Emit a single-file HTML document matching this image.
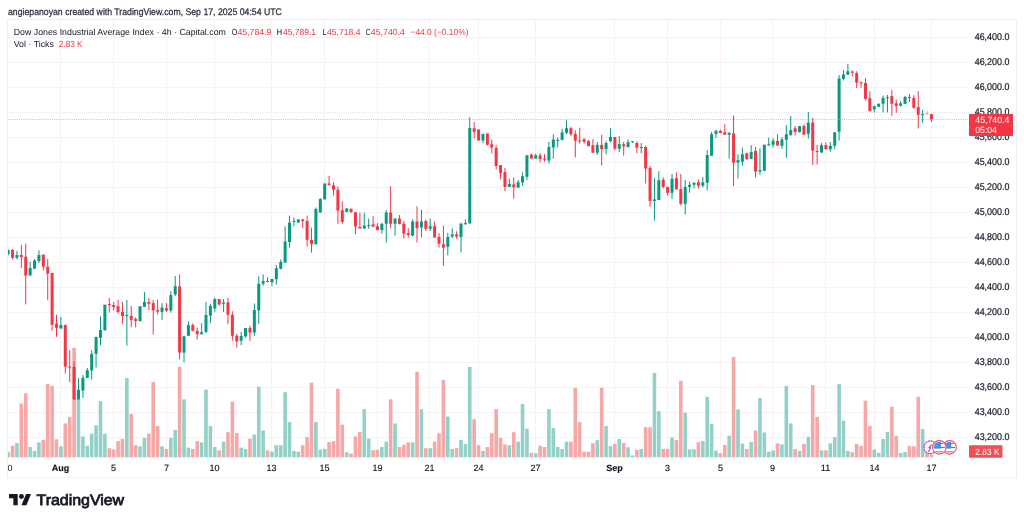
<!DOCTYPE html>
<html><head><meta charset="utf-8"><title>DJI 4h chart</title>
<style>
html,body{margin:0;padding:0;background:#fff;}
body{width:1024px;height:522px;overflow:hidden;position:relative;font-family:"Liberation Sans",Arial,sans-serif;}
svg{position:absolute;left:0;top:0;}
svg text{font-family:"Liberation Sans",Arial,sans-serif;text-rendering:geometricPrecision;}
</style></head><body>
<svg width="1024" height="522" viewBox="0 0 1024 522">
<defs>
<clipPath id="pane"><rect x="8" y="20" width="960" height="438"/></clipPath>
<clipPath id="tax"><rect x="8" y="458" width="960" height="19"/></clipPath>
<clipPath id="f1"><circle cx="0" cy="0" r="5.6"/></clipPath>
</defs>
<rect x="7.5" y="19.5" width="1009" height="458.3" fill="#fff" stroke="#edf0f2" stroke-width="1"/>
<g stroke-width="1" shape-rendering="crispEdges"><line x1="8" y1="37.5" x2="968" y2="37.5" stroke="#f1f4f5"/><line x1="8" y1="62.5" x2="968" y2="62.5" stroke="#f1f4f5"/><line x1="8" y1="87.5" x2="968" y2="87.5" stroke="#f1f4f5"/><line x1="8" y1="112.5" x2="968" y2="112.5" stroke="#f1f4f5"/><line x1="8" y1="137.5" x2="968" y2="137.5" stroke="#f1f4f5"/><line x1="8" y1="162.5" x2="968" y2="162.5" stroke="#f1f4f5"/><line x1="8" y1="187.5" x2="968" y2="187.5" stroke="#fcf0f1"/><line x1="8" y1="212.5" x2="968" y2="212.5" stroke="#f1f4f5"/><line x1="8" y1="237.5" x2="968" y2="237.5" stroke="#f1f4f5"/><line x1="8" y1="262.5" x2="968" y2="262.5" stroke="#fcf0f1"/><line x1="8" y1="287.5" x2="968" y2="287.5" stroke="#f1f4f5"/><line x1="8" y1="312.5" x2="968" y2="312.5" stroke="#f7f4f6"/><line x1="8" y1="337.5" x2="968" y2="337.5" stroke="#f1f4f5"/><line x1="8" y1="362.5" x2="968" y2="362.5" stroke="#f1f4f5"/><line x1="8" y1="387.5" x2="968" y2="387.5" stroke="#fcf0f1"/><line x1="8" y1="412.5" x2="968" y2="412.5" stroke="#fcf0f1"/><line x1="8" y1="437.5" x2="968" y2="437.5" stroke="#f1f4f5"/><line x1="60.5" y1="20" x2="60.5" y2="458" stroke="#f1f4f5"/><line x1="113.5" y1="20" x2="113.5" y2="458" stroke="#f1f4f5"/><line x1="166.5" y1="20" x2="166.5" y2="458" stroke="#fcf0f1"/><line x1="214.5" y1="20" x2="214.5" y2="458" stroke="#fcf0f1"/><line x1="271.5" y1="20" x2="271.5" y2="458" stroke="#f1f4f5"/><line x1="324.5" y1="20" x2="324.5" y2="458" stroke="#f1f4f5"/><line x1="377.5" y1="20" x2="377.5" y2="458" stroke="#fcf0f1"/><line x1="429.5" y1="20" x2="429.5" y2="458" stroke="#fcf0f1"/><line x1="478.5" y1="20" x2="478.5" y2="458" stroke="#f1f4f5"/><line x1="535.5" y1="20" x2="535.5" y2="458" stroke="#f1f4f5"/><line x1="614.5" y1="20" x2="614.5" y2="458" stroke="#f1f4f5"/><line x1="667.5" y1="20" x2="667.5" y2="458" stroke="#f1f4f5"/><line x1="720.5" y1="20" x2="720.5" y2="458" stroke="#fcf0f1"/><line x1="772.5" y1="20" x2="772.5" y2="458" stroke="#fcf0f1"/><line x1="825.5" y1="20" x2="825.5" y2="458" stroke="#f1f4f5"/><line x1="874.5" y1="20" x2="874.5" y2="458" stroke="#f1f4f5"/><line x1="931.5" y1="20" x2="931.5" y2="458" stroke="#fcf0f1"/></g>
<g clip-path="url(#pane)"><rect x="6.35" y="452.2" width="3.6" height="5.1" fill="#92d1c7"/><rect x="10.75" y="445.7" width="3.6" height="11.6" fill="#f6a7a7"/><rect x="15.14" y="443" width="3.6" height="14.3" fill="#92d1c7"/><rect x="19.54" y="403.6" width="3.6" height="53.7" fill="#f6a7a7"/><rect x="23.94" y="393.2" width="3.6" height="64.1" fill="#f6a7a7"/><rect x="28.33" y="447" width="3.6" height="10.3" fill="#92d1c7"/><rect x="32.73" y="450.9" width="3.6" height="6.4" fill="#92d1c7"/><rect x="37.13" y="442.4" width="3.6" height="14.9" fill="#92d1c7"/><rect x="41.52" y="439.8" width="3.6" height="17.5" fill="#f6a7a7"/><rect x="45.92" y="383.9" width="3.6" height="73.4" fill="#f6a7a7"/><rect x="50.31" y="385.9" width="3.6" height="71.4" fill="#f6a7a7"/><rect x="54.71" y="439.2" width="3.6" height="18.1" fill="#f6a7a7"/><rect x="59.11" y="446.3" width="3.6" height="11" fill="#92d1c7"/><rect x="63.5" y="423.4" width="3.6" height="33.9" fill="#f6a7a7"/><rect x="67.9" y="416.9" width="3.6" height="40.4" fill="#f6a7a7"/><rect x="72.3" y="347.8" width="3.6" height="109.5" fill="#f6a7a7"/><rect x="76.69" y="399" width="3.6" height="58.3" fill="#92d1c7"/><rect x="81.09" y="436.5" width="3.6" height="20.8" fill="#92d1c7"/><rect x="85.49" y="445.7" width="3.6" height="11.6" fill="#92d1c7"/><rect x="89.88" y="433.7" width="3.6" height="23.6" fill="#92d1c7"/><rect x="94.28" y="425.3" width="3.6" height="32" fill="#92d1c7"/><rect x="98.68" y="401.2" width="3.6" height="56.1" fill="#92d1c7"/><rect x="103.07" y="433.7" width="3.6" height="23.6" fill="#92d1c7"/><rect x="107.47" y="448.2" width="3.6" height="9.1" fill="#f6a7a7"/><rect x="111.87" y="449.5" width="3.6" height="7.8" fill="#f6a7a7"/><rect x="116.26" y="441.1" width="3.6" height="16.2" fill="#f6a7a7"/><rect x="120.66" y="438.9" width="3.6" height="18.4" fill="#f6a7a7"/><rect x="125.06" y="377.9" width="3.6" height="79.4" fill="#92d1c7"/><rect x="129.45" y="413.8" width="3.6" height="43.5" fill="#f6a7a7"/><rect x="133.85" y="445.2" width="3.6" height="12.1" fill="#f6a7a7"/><rect x="138.24" y="446.3" width="3.6" height="11" fill="#92d1c7"/><rect x="142.64" y="437.9" width="3.6" height="19.4" fill="#92d1c7"/><rect x="147.04" y="433.7" width="3.6" height="23.6" fill="#f6a7a7"/><rect x="151.43" y="382" width="3.6" height="75.3" fill="#f6a7a7"/><rect x="155.83" y="425.9" width="3.6" height="31.4" fill="#f6a7a7"/><rect x="160.23" y="446.3" width="3.6" height="11" fill="#92d1c7"/><rect x="164.62" y="448.9" width="3.6" height="8.4" fill="#f6a7a7"/><rect x="169.02" y="437.9" width="3.6" height="19.4" fill="#92d1c7"/><rect x="173.42" y="430" width="3.6" height="27.3" fill="#92d1c7"/><rect x="177.81" y="366.8" width="3.6" height="90.5" fill="#f6a7a7"/><rect x="182.21" y="399.3" width="3.6" height="58" fill="#92d1c7"/><rect x="186.61" y="447.6" width="3.6" height="9.7" fill="#92d1c7"/><rect x="191" y="448.9" width="3.6" height="8.4" fill="#f6a7a7"/><rect x="195.4" y="441.1" width="3.6" height="16.2" fill="#f6a7a7"/><rect x="199.8" y="442.4" width="3.6" height="14.9" fill="#92d1c7"/><rect x="204.19" y="389.6" width="3.6" height="67.7" fill="#92d1c7"/><rect x="208.59" y="425.9" width="3.6" height="31.4" fill="#92d1c7"/><rect x="212.99" y="447" width="3.6" height="10.3" fill="#92d1c7"/><rect x="217.38" y="450.4" width="3.6" height="6.9" fill="#f6a7a7"/><rect x="221.78" y="441.7" width="3.6" height="15.6" fill="#92d1c7"/><rect x="226.17" y="432.2" width="3.6" height="25.1" fill="#f6a7a7"/><rect x="230.57" y="401.7" width="3.6" height="55.6" fill="#f6a7a7"/><rect x="234.97" y="433.1" width="3.6" height="24.2" fill="#f6a7a7"/><rect x="239.36" y="447.6" width="3.6" height="9.7" fill="#92d1c7"/><rect x="243.76" y="449.1" width="3.6" height="8.2" fill="#92d1c7"/><rect x="248.16" y="438.7" width="3.6" height="18.6" fill="#f6a7a7"/><rect x="252.55" y="434.6" width="3.6" height="22.7" fill="#92d1c7"/><rect x="256.95" y="386.7" width="3.6" height="70.6" fill="#92d1c7"/><rect x="261.35" y="430.5" width="3.6" height="26.8" fill="#92d1c7"/><rect x="265.74" y="450.4" width="3.6" height="6.9" fill="#f6a7a7"/><rect x="270.14" y="451.7" width="3.6" height="5.6" fill="#92d1c7"/><rect x="274.54" y="445.2" width="3.6" height="12.1" fill="#92d1c7"/><rect x="278.93" y="445.2" width="3.6" height="12.1" fill="#92d1c7"/><rect x="283.33" y="392.2" width="3.6" height="65.1" fill="#92d1c7"/><rect x="287.73" y="422" width="3.6" height="35.3" fill="#92d1c7"/><rect x="292.12" y="450.9" width="3.6" height="6.4" fill="#92d1c7"/><rect x="296.52" y="451.7" width="3.6" height="5.6" fill="#92d1c7"/><rect x="300.92" y="445.2" width="3.6" height="12.1" fill="#f6a7a7"/><rect x="305.31" y="437" width="3.6" height="20.3" fill="#f6a7a7"/><rect x="309.71" y="382.6" width="3.6" height="74.7" fill="#f6a7a7"/><rect x="314.1" y="422" width="3.6" height="35.3" fill="#92d1c7"/><rect x="318.5" y="449.8" width="3.6" height="7.5" fill="#92d1c7"/><rect x="322.9" y="448.9" width="3.6" height="8.4" fill="#92d1c7"/><rect x="327.29" y="442" width="3.6" height="15.3" fill="#f6a7a7"/><rect x="331.69" y="441.1" width="3.6" height="16.2" fill="#f6a7a7"/><rect x="336.09" y="388.7" width="3.6" height="68.6" fill="#f6a7a7"/><rect x="340.48" y="424.7" width="3.6" height="32.6" fill="#f6a7a7"/><rect x="344.88" y="452.2" width="3.6" height="5.1" fill="#92d1c7"/><rect x="349.28" y="453.5" width="3.6" height="3.8" fill="#f6a7a7"/><rect x="353.67" y="436.5" width="3.6" height="20.8" fill="#f6a7a7"/><rect x="358.07" y="431.8" width="3.6" height="25.5" fill="#f6a7a7"/><rect x="362.47" y="409.1" width="3.6" height="48.2" fill="#92d1c7"/><rect x="366.86" y="438.7" width="3.6" height="18.6" fill="#92d1c7"/><rect x="371.26" y="450.2" width="3.6" height="7.1" fill="#f6a7a7"/><rect x="375.66" y="449.8" width="3.6" height="7.5" fill="#f6a7a7"/><rect x="380.05" y="447" width="3.6" height="10.3" fill="#92d1c7"/><rect x="384.45" y="441.7" width="3.6" height="15.6" fill="#92d1c7"/><rect x="388.85" y="399.3" width="3.6" height="58" fill="#f6a7a7"/><rect x="393.24" y="423.4" width="3.6" height="33.9" fill="#92d1c7"/><rect x="397.64" y="447" width="3.6" height="10.3" fill="#f6a7a7"/><rect x="402.03" y="444.8" width="3.6" height="12.5" fill="#f6a7a7"/><rect x="406.43" y="442.4" width="3.6" height="14.9" fill="#f6a7a7"/><rect x="410.83" y="442.4" width="3.6" height="14.9" fill="#92d1c7"/><rect x="415.22" y="371.8" width="3.6" height="85.5" fill="#f6a7a7"/><rect x="419.62" y="409.1" width="3.6" height="48.2" fill="#92d1c7"/><rect x="424.02" y="448.2" width="3.6" height="9.1" fill="#f6a7a7"/><rect x="428.41" y="448.2" width="3.6" height="9.1" fill="#92d1c7"/><rect x="432.81" y="441.7" width="3.6" height="15.6" fill="#f6a7a7"/><rect x="437.21" y="433.3" width="3.6" height="24" fill="#f6a7a7"/><rect x="441.6" y="379.8" width="3.6" height="77.5" fill="#f6a7a7"/><rect x="446" y="416.6" width="3.6" height="40.7" fill="#92d1c7"/><rect x="450.4" y="448.9" width="3.6" height="8.4" fill="#92d1c7"/><rect x="454.79" y="448.2" width="3.6" height="9.1" fill="#f6a7a7"/><rect x="459.19" y="439.8" width="3.6" height="17.5" fill="#92d1c7"/><rect x="463.59" y="443.9" width="3.6" height="13.4" fill="#92d1c7"/><rect x="467.98" y="366.8" width="3.6" height="90.5" fill="#92d1c7"/><rect x="472.38" y="419.2" width="3.6" height="38.1" fill="#f6a7a7"/><rect x="476.78" y="445.2" width="3.6" height="12.1" fill="#f6a7a7"/><rect x="481.17" y="450.9" width="3.6" height="6.4" fill="#92d1c7"/><rect x="485.57" y="447" width="3.6" height="10.3" fill="#f6a7a7"/><rect x="489.96" y="433.3" width="3.6" height="24" fill="#f6a7a7"/><rect x="494.36" y="409.1" width="3.6" height="48.2" fill="#f6a7a7"/><rect x="498.76" y="437.9" width="3.6" height="19.4" fill="#f6a7a7"/><rect x="503.15" y="444.4" width="3.6" height="12.9" fill="#f6a7a7"/><rect x="507.55" y="445.2" width="3.6" height="12.1" fill="#92d1c7"/><rect x="511.95" y="432.2" width="3.6" height="25.1" fill="#f6a7a7"/><rect x="516.34" y="441.7" width="3.6" height="15.6" fill="#92d1c7"/><rect x="520.74" y="403.9" width="3.6" height="53.4" fill="#92d1c7"/><rect x="525.14" y="428.6" width="3.6" height="28.7" fill="#92d1c7"/><rect x="529.53" y="452.8" width="3.6" height="4.5" fill="#f6a7a7"/><rect x="533.93" y="453.2" width="3.6" height="4.1" fill="#92d1c7"/><rect x="538.33" y="445.7" width="3.6" height="11.6" fill="#f6a7a7"/><rect x="542.72" y="447" width="3.6" height="10.3" fill="#f6a7a7"/><rect x="547.12" y="409.1" width="3.6" height="48.2" fill="#92d1c7"/><rect x="551.52" y="428.1" width="3.6" height="29.2" fill="#92d1c7"/><rect x="555.91" y="447" width="3.6" height="10.3" fill="#92d1c7"/><rect x="560.31" y="449.1" width="3.6" height="8.2" fill="#92d1c7"/><rect x="564.71" y="441.7" width="3.6" height="15.6" fill="#92d1c7"/><rect x="569.1" y="441.7" width="3.6" height="15.6" fill="#f6a7a7"/><rect x="573.5" y="387.8" width="3.6" height="69.5" fill="#f6a7a7"/><rect x="577.89" y="422.1" width="3.6" height="35.2" fill="#f6a7a7"/><rect x="582.29" y="451.7" width="3.6" height="5.6" fill="#f6a7a7"/><rect x="586.69" y="451.7" width="3.6" height="5.6" fill="#f6a7a7"/><rect x="591.08" y="443.3" width="3.6" height="14" fill="#f6a7a7"/><rect x="595.48" y="440.2" width="3.6" height="17.1" fill="#92d1c7"/><rect x="599.88" y="387.8" width="3.6" height="69.5" fill="#f6a7a7"/><rect x="604.27" y="425.9" width="3.6" height="31.4" fill="#92d1c7"/><rect x="608.67" y="446.1" width="3.6" height="11.2" fill="#92d1c7"/><rect x="613.07" y="443.9" width="3.6" height="13.4" fill="#f6a7a7"/><rect x="617.46" y="439" width="3.6" height="18.3" fill="#92d1c7"/><rect x="621.86" y="442.9" width="3.6" height="14.4" fill="#f6a7a7"/><rect x="626.26" y="447.2" width="3.6" height="10.1" fill="#92d1c7"/><rect x="630.65" y="455.5" width="3.6" height="1.8" fill="#92d1c7"/><rect x="635.05" y="450" width="3.6" height="7.3" fill="#f6a7a7"/><rect x="639.45" y="448.9" width="3.6" height="8.4" fill="#92d1c7"/><rect x="643.84" y="427.2" width="3.6" height="30.1" fill="#f6a7a7"/><rect x="648.24" y="427.2" width="3.6" height="30.1" fill="#f6a7a7"/><rect x="652.64" y="373" width="3.6" height="84.3" fill="#92d1c7"/><rect x="657.03" y="411.2" width="3.6" height="46.1" fill="#92d1c7"/><rect x="661.43" y="448.9" width="3.6" height="8.4" fill="#f6a7a7"/><rect x="665.82" y="448.9" width="3.6" height="8.4" fill="#f6a7a7"/><rect x="670.22" y="437.6" width="3.6" height="19.7" fill="#92d1c7"/><rect x="674.62" y="440" width="3.6" height="17.3" fill="#f6a7a7"/><rect x="679.01" y="380.8" width="3.6" height="76.5" fill="#f6a7a7"/><rect x="683.41" y="412.7" width="3.6" height="44.6" fill="#92d1c7"/><rect x="687.81" y="449.3" width="3.6" height="8" fill="#92d1c7"/><rect x="692.2" y="449.3" width="3.6" height="8" fill="#92d1c7"/><rect x="696.6" y="442.1" width="3.6" height="15.2" fill="#f6a7a7"/><rect x="701" y="441" width="3.6" height="16.3" fill="#92d1c7"/><rect x="705.39" y="396.8" width="3.6" height="60.5" fill="#92d1c7"/><rect x="709.79" y="424" width="3.6" height="33.3" fill="#92d1c7"/><rect x="714.19" y="450.6" width="3.6" height="6.7" fill="#92d1c7"/><rect x="718.58" y="453.1" width="3.6" height="4.2" fill="#f6a7a7"/><rect x="722.98" y="445" width="3.6" height="12.3" fill="#f6a7a7"/><rect x="727.38" y="435.7" width="3.6" height="21.6" fill="#92d1c7"/><rect x="731.77" y="356.8" width="3.6" height="100.5" fill="#f6a7a7"/><rect x="736.17" y="409.5" width="3.6" height="47.8" fill="#92d1c7"/><rect x="740.57" y="443.6" width="3.6" height="13.7" fill="#92d1c7"/><rect x="744.96" y="449" width="3.6" height="8.3" fill="#f6a7a7"/><rect x="749.36" y="442" width="3.6" height="15.3" fill="#92d1c7"/><rect x="753.75" y="430.5" width="3.6" height="26.8" fill="#f6a7a7"/><rect x="758.15" y="398" width="3.6" height="59.3" fill="#92d1c7"/><rect x="762.55" y="432.4" width="3.6" height="24.9" fill="#92d1c7"/><rect x="766.94" y="451.7" width="3.6" height="5.6" fill="#92d1c7"/><rect x="771.34" y="450.4" width="3.6" height="6.9" fill="#92d1c7"/><rect x="775.74" y="443.3" width="3.6" height="14" fill="#f6a7a7"/><rect x="780.13" y="444.4" width="3.6" height="12.9" fill="#92d1c7"/><rect x="784.53" y="385.9" width="3.6" height="71.4" fill="#92d1c7"/><rect x="788.93" y="423.4" width="3.6" height="33.9" fill="#92d1c7"/><rect x="793.32" y="449.1" width="3.6" height="8.2" fill="#f6a7a7"/><rect x="797.72" y="450.9" width="3.6" height="6.4" fill="#92d1c7"/><rect x="802.12" y="443.9" width="3.6" height="13.4" fill="#f6a7a7"/><rect x="806.51" y="436.8" width="3.6" height="20.5" fill="#92d1c7"/><rect x="810.91" y="385" width="3.6" height="72.3" fill="#f6a7a7"/><rect x="815.31" y="416.9" width="3.6" height="40.4" fill="#f6a7a7"/><rect x="819.7" y="450.4" width="3.6" height="6.9" fill="#92d1c7"/><rect x="824.1" y="450.4" width="3.6" height="6.9" fill="#f6a7a7"/><rect x="828.5" y="443.3" width="3.6" height="14" fill="#92d1c7"/><rect x="832.89" y="437" width="3.6" height="20.3" fill="#92d1c7"/><rect x="837.29" y="384.1" width="3.6" height="73.2" fill="#92d1c7"/><rect x="841.68" y="420.7" width="3.6" height="36.6" fill="#92d1c7"/><rect x="846.08" y="450.9" width="3.6" height="6.4" fill="#92d1c7"/><rect x="850.48" y="452.2" width="3.6" height="5.1" fill="#f6a7a7"/><rect x="854.87" y="443.9" width="3.6" height="13.4" fill="#f6a7a7"/><rect x="859.27" y="445.8" width="3.6" height="11.5" fill="#f6a7a7"/><rect x="863.67" y="400.7" width="3.6" height="56.6" fill="#f6a7a7"/><rect x="868.06" y="425.8" width="3.6" height="31.5" fill="#f6a7a7"/><rect x="872.46" y="449.4" width="3.6" height="7.9" fill="#92d1c7"/><rect x="876.86" y="452.9" width="3.6" height="4.4" fill="#92d1c7"/><rect x="881.25" y="439" width="3.6" height="18.3" fill="#92d1c7"/><rect x="885.65" y="432" width="3.6" height="25.3" fill="#92d1c7"/><rect x="890.05" y="406.7" width="3.6" height="50.6" fill="#f6a7a7"/><rect x="894.44" y="435.9" width="3.6" height="21.4" fill="#f6a7a7"/><rect x="898.84" y="452.9" width="3.6" height="4.4" fill="#92d1c7"/><rect x="903.24" y="452.1" width="3.6" height="5.2" fill="#92d1c7"/><rect x="907.63" y="445.9" width="3.6" height="11.4" fill="#f6a7a7"/><rect x="912.03" y="446.3" width="3.6" height="11" fill="#f6a7a7"/><rect x="916.43" y="396.8" width="3.6" height="60.5" fill="#f6a7a7"/><rect x="920.82" y="429" width="3.6" height="28.3" fill="#92d1c7"/><rect x="925.22" y="453" width="3.6" height="4.3" fill="#f6a7a7"/><rect x="929.61" y="454.5" width="3.6" height="2.8" fill="#f6a7a7"/></g>
<g clip-path="url(#pane)"><rect x="7.65" y="249.5" width="1" height="6" fill="#089981"/><rect x="6.65" y="250" width="3" height="4" fill="#089981"/><rect x="12.05" y="249" width="1" height="10.5" fill="#f23645"/><rect x="11.05" y="250" width="3" height="7.75" fill="#f23645"/><rect x="16.44" y="251" width="1" height="8.5" fill="#089981"/><rect x="15.44" y="255" width="3" height="2.75" fill="#089981"/><rect x="20.84" y="245" width="1" height="23" fill="#f23645"/><rect x="19.84" y="255" width="3" height="2" fill="#f23645"/><rect x="25.24" y="243.6" width="1" height="60.8" fill="#f23645"/><rect x="24.24" y="256.75" width="3" height="18.75" fill="#f23645"/><rect x="29.63" y="261.75" width="1" height="13.75" fill="#089981"/><rect x="28.63" y="268" width="3" height="7.5" fill="#089981"/><rect x="34.03" y="259.25" width="1" height="10" fill="#089981"/><rect x="33.03" y="260.5" width="3" height="8.1" fill="#089981"/><rect x="38.43" y="250.25" width="1" height="12.75" fill="#089981"/><rect x="37.43" y="255" width="3" height="6" fill="#089981"/><rect x="42.82" y="254.6" width="1" height="15.9" fill="#f23645"/><rect x="41.82" y="254.6" width="3" height="12.15" fill="#f23645"/><rect x="47.22" y="259" width="1" height="41.2" fill="#f23645"/><rect x="46.22" y="266.75" width="3" height="6.85" fill="#f23645"/><rect x="51.61" y="273" width="1" height="57.6" fill="#f23645"/><rect x="50.61" y="273" width="3" height="51.75" fill="#f23645"/><rect x="56.01" y="314.75" width="1" height="22.15" fill="#f23645"/><rect x="55.01" y="323.5" width="3" height="4.25" fill="#f23645"/><rect x="60.41" y="316.9" width="1" height="11.6" fill="#089981"/><rect x="59.41" y="325" width="3" height="3.5" fill="#089981"/><rect x="64.8" y="324.5" width="1" height="49.1" fill="#f23645"/><rect x="63.8" y="325" width="3" height="41.6" fill="#f23645"/><rect x="69.2" y="350.2" width="1" height="31.8" fill="#f23645"/><rect x="68.2" y="366.6" width="3" height="1" fill="#f23645"/><rect x="73.6" y="361.4" width="1" height="38.6" fill="#f23645"/><rect x="72.6" y="367" width="3" height="32.4" fill="#f23645"/><rect x="77.99" y="377.8" width="1" height="21.6" fill="#089981"/><rect x="76.99" y="389.7" width="3" height="9.7" fill="#089981"/><rect x="82.39" y="375" width="1" height="22.8" fill="#089981"/><rect x="81.39" y="377.8" width="3" height="12.8" fill="#089981"/><rect x="86.79" y="368" width="1" height="10" fill="#089981"/><rect x="85.79" y="370.2" width="3" height="7.8" fill="#089981"/><rect x="91.18" y="350.2" width="1" height="29.5" fill="#089981"/><rect x="90.18" y="353.9" width="3" height="16.6" fill="#089981"/><rect x="95.58" y="336.9" width="1" height="30.6" fill="#089981"/><rect x="94.58" y="336.9" width="3" height="17" fill="#089981"/><rect x="99.98" y="316.25" width="1" height="28.75" fill="#089981"/><rect x="98.98" y="330" width="3" height="7.75" fill="#089981"/><rect x="104.37" y="304.75" width="1" height="25.65" fill="#089981"/><rect x="103.37" y="304.75" width="3" height="25.65" fill="#089981"/><rect x="108.77" y="298" width="1" height="14.5" fill="#f23645"/><rect x="107.77" y="304" width="3" height="1" fill="#f23645"/><rect x="113.17" y="302" width="1" height="8.6" fill="#f23645"/><rect x="112.17" y="305" width="3" height="2" fill="#f23645"/><rect x="117.56" y="300" width="1" height="13.75" fill="#f23645"/><rect x="116.56" y="306.25" width="3" height="5.75" fill="#f23645"/><rect x="121.96" y="301.9" width="1" height="21.85" fill="#f23645"/><rect x="120.96" y="312" width="3" height="4" fill="#f23645"/><rect x="126.36" y="300" width="1" height="45.7" fill="#089981"/><rect x="125.36" y="315" width="3" height="1" fill="#089981"/><rect x="130.75" y="306" width="1" height="21.3" fill="#f23645"/><rect x="129.75" y="316" width="3" height="3.75" fill="#f23645"/><rect x="135.15" y="317.25" width="1" height="10.05" fill="#f23645"/><rect x="134.15" y="319.1" width="3" height="1.9" fill="#f23645"/><rect x="139.54" y="306.25" width="1" height="15" fill="#089981"/><rect x="138.54" y="306.25" width="3" height="15" fill="#089981"/><rect x="143.94" y="291.9" width="1" height="15" fill="#089981"/><rect x="142.94" y="301.9" width="3" height="5" fill="#089981"/><rect x="148.34" y="298.1" width="1" height="12.15" fill="#f23645"/><rect x="147.34" y="301.9" width="3" height="1.85" fill="#f23645"/><rect x="152.73" y="300" width="1" height="34.5" fill="#f23645"/><rect x="151.73" y="303.1" width="3" height="7.15" fill="#f23645"/><rect x="157.13" y="299.4" width="1" height="15" fill="#f23645"/><rect x="156.13" y="310" width="3" height="1.5" fill="#f23645"/><rect x="161.53" y="303.1" width="1" height="16.9" fill="#089981"/><rect x="160.53" y="307.5" width="3" height="4.4" fill="#089981"/><rect x="165.92" y="303.1" width="1" height="8.8" fill="#f23645"/><rect x="164.92" y="308.1" width="3" height="2.5" fill="#f23645"/><rect x="170.32" y="291.25" width="1" height="21.25" fill="#089981"/><rect x="169.32" y="295" width="3" height="15.6" fill="#089981"/><rect x="174.72" y="276" width="1" height="20.25" fill="#089981"/><rect x="173.72" y="286.25" width="3" height="8.15" fill="#089981"/><rect x="179.11" y="274.4" width="1" height="85.1" fill="#f23645"/><rect x="178.11" y="286.25" width="3" height="66.35" fill="#f23645"/><rect x="183.51" y="335.75" width="1" height="26.5" fill="#089981"/><rect x="182.51" y="336.4" width="3" height="16.2" fill="#089981"/><rect x="187.91" y="321.25" width="1" height="14.5" fill="#089981"/><rect x="186.91" y="325.1" width="3" height="10.65" fill="#089981"/><rect x="192.3" y="323.25" width="1" height="8.15" fill="#f23645"/><rect x="191.3" y="325.1" width="3" height="5.65" fill="#f23645"/><rect x="196.7" y="327.6" width="1" height="11.9" fill="#f23645"/><rect x="195.7" y="331" width="3" height="3.25" fill="#f23645"/><rect x="201.1" y="323.25" width="1" height="11" fill="#089981"/><rect x="200.1" y="332.25" width="3" height="2" fill="#089981"/><rect x="205.49" y="301.9" width="1" height="31.35" fill="#089981"/><rect x="204.49" y="315" width="3" height="16.9" fill="#089981"/><rect x="209.89" y="303.75" width="1" height="19.35" fill="#089981"/><rect x="208.89" y="306" width="3" height="9.6" fill="#089981"/><rect x="214.29" y="297.75" width="1" height="14.15" fill="#089981"/><rect x="213.29" y="299.1" width="3" height="9.4" fill="#089981"/><rect x="218.68" y="299.1" width="1" height="6.5" fill="#f23645"/><rect x="217.68" y="299.1" width="3" height="5.3" fill="#f23645"/><rect x="223.08" y="299" width="1" height="12.9" fill="#089981"/><rect x="222.08" y="302.5" width="3" height="1.25" fill="#089981"/><rect x="227.47" y="297.75" width="1" height="26.45" fill="#f23645"/><rect x="226.47" y="302.25" width="3" height="12.5" fill="#f23645"/><rect x="231.87" y="311.25" width="1" height="29.5" fill="#f23645"/><rect x="230.87" y="314.75" width="3" height="21" fill="#f23645"/><rect x="236.27" y="333.9" width="1" height="13.7" fill="#f23645"/><rect x="235.27" y="335.75" width="3" height="5.65" fill="#f23645"/><rect x="240.66" y="332" width="1" height="13.1" fill="#089981"/><rect x="239.66" y="336" width="3" height="4.75" fill="#089981"/><rect x="245.06" y="328" width="1" height="9.6" fill="#089981"/><rect x="244.06" y="328" width="3" height="8.4" fill="#089981"/><rect x="249.46" y="325.75" width="1" height="15" fill="#f23645"/><rect x="248.46" y="328" width="3" height="4.6" fill="#f23645"/><rect x="253.85" y="303.5" width="1" height="32.5" fill="#089981"/><rect x="252.85" y="310" width="3" height="22.5" fill="#089981"/><rect x="258.25" y="276.25" width="1" height="47.5" fill="#089981"/><rect x="257.25" y="283.75" width="3" height="26.5" fill="#089981"/><rect x="262.65" y="274.4" width="1" height="11.2" fill="#089981"/><rect x="261.65" y="281" width="3" height="2.75" fill="#089981"/><rect x="267.04" y="277.25" width="1" height="5.25" fill="#f23645"/><rect x="266.04" y="281" width="3" height="1" fill="#f23645"/><rect x="271.44" y="279" width="1" height="7.25" fill="#089981"/><rect x="270.44" y="279" width="3" height="3.25" fill="#089981"/><rect x="275.84" y="265.1" width="1" height="19.4" fill="#089981"/><rect x="274.84" y="268.25" width="3" height="11" fill="#089981"/><rect x="280.23" y="259.5" width="1" height="9.75" fill="#089981"/><rect x="279.23" y="262" width="3" height="6.9" fill="#089981"/><rect x="284.63" y="226.4" width="1" height="36.2" fill="#089981"/><rect x="283.63" y="241.4" width="3" height="21.2" fill="#089981"/><rect x="289.03" y="215.6" width="1" height="32" fill="#089981"/><rect x="288.03" y="222.6" width="3" height="19.4" fill="#089981"/><rect x="293.42" y="217.5" width="1" height="8.75" fill="#089981"/><rect x="292.42" y="221" width="3" height="1" fill="#089981"/><rect x="297.82" y="219.4" width="1" height="3.6" fill="#089981"/><rect x="296.82" y="219.4" width="3" height="3.1" fill="#089981"/><rect x="302.22" y="218.75" width="1" height="9.35" fill="#f23645"/><rect x="301.22" y="219.4" width="3" height="1.6" fill="#f23645"/><rect x="306.61" y="215.6" width="1" height="30.8" fill="#f23645"/><rect x="305.61" y="221" width="3" height="18.75" fill="#f23645"/><rect x="311.01" y="227.6" width="1" height="25" fill="#f23645"/><rect x="310.01" y="240.1" width="3" height="3.8" fill="#f23645"/><rect x="315.4" y="207.5" width="1" height="36.75" fill="#089981"/><rect x="314.4" y="209" width="3" height="35.25" fill="#089981"/><rect x="319.8" y="198.1" width="1" height="14.4" fill="#089981"/><rect x="318.8" y="199.1" width="3" height="13.4" fill="#089981"/><rect x="324.2" y="183.5" width="1" height="15.9" fill="#089981"/><rect x="323.2" y="183.5" width="3" height="15.9" fill="#089981"/><rect x="328.59" y="176" width="1" height="9.25" fill="#f23645"/><rect x="327.59" y="183.5" width="3" height="1.75" fill="#f23645"/><rect x="332.99" y="182.25" width="1" height="13.35" fill="#f23645"/><rect x="331.99" y="185.25" width="3" height="4.5" fill="#f23645"/><rect x="337.39" y="186.5" width="1" height="37.25" fill="#f23645"/><rect x="336.39" y="189.75" width="3" height="20.85" fill="#f23645"/><rect x="341.78" y="201.25" width="1" height="22.5" fill="#f23645"/><rect x="340.78" y="210.25" width="3" height="11.65" fill="#f23645"/><rect x="346.18" y="207.75" width="1" height="4.5" fill="#089981"/><rect x="345.18" y="208.5" width="3" height="3.4" fill="#089981"/><rect x="350.58" y="208.75" width="1" height="3.75" fill="#f23645"/><rect x="349.58" y="208.75" width="3" height="3.5" fill="#f23645"/><rect x="354.97" y="212.25" width="1" height="22.25" fill="#f23645"/><rect x="353.97" y="212.25" width="3" height="14.25" fill="#f23645"/><rect x="359.37" y="212.5" width="1" height="16" fill="#f23645"/><rect x="358.37" y="226.9" width="3" height="1.6" fill="#f23645"/><rect x="363.77" y="212.75" width="1" height="16" fill="#089981"/><rect x="362.77" y="225.6" width="3" height="2.9" fill="#089981"/><rect x="368.16" y="218.5" width="1" height="10.25" fill="#089981"/><rect x="367.16" y="225" width="3" height="1" fill="#089981"/><rect x="372.56" y="216.1" width="1" height="11.4" fill="#f23645"/><rect x="371.56" y="224.4" width="3" height="2" fill="#f23645"/><rect x="376.96" y="223.1" width="1" height="7.5" fill="#f23645"/><rect x="375.96" y="226.25" width="3" height="3.75" fill="#f23645"/><rect x="381.35" y="223.1" width="1" height="10.4" fill="#089981"/><rect x="380.35" y="223.75" width="3" height="6.25" fill="#089981"/><rect x="385.75" y="210" width="1" height="32.5" fill="#089981"/><rect x="384.75" y="212.5" width="3" height="11.25" fill="#089981"/><rect x="390.15" y="186.1" width="1" height="42" fill="#f23645"/><rect x="389.15" y="212.5" width="3" height="11.25" fill="#f23645"/><rect x="394.54" y="218.5" width="1" height="17.1" fill="#089981"/><rect x="393.54" y="218.5" width="3" height="5.25" fill="#089981"/><rect x="398.94" y="215" width="1" height="9.4" fill="#f23645"/><rect x="397.94" y="218.5" width="3" height="5.5" fill="#f23645"/><rect x="403.33" y="221" width="1" height="17.75" fill="#f23645"/><rect x="402.33" y="223.75" width="3" height="10" fill="#f23645"/><rect x="407.73" y="228.1" width="1" height="9.4" fill="#f23645"/><rect x="406.73" y="233.1" width="3" height="1.9" fill="#f23645"/><rect x="412.13" y="219.4" width="1" height="16.85" fill="#089981"/><rect x="411.13" y="221.5" width="3" height="14.1" fill="#089981"/><rect x="416.52" y="206.25" width="1" height="36.25" fill="#f23645"/><rect x="415.52" y="221.5" width="3" height="6.6" fill="#f23645"/><rect x="420.92" y="209.75" width="1" height="27.75" fill="#089981"/><rect x="419.92" y="221.5" width="3" height="6" fill="#089981"/><rect x="425.32" y="219.4" width="1" height="11.6" fill="#f23645"/><rect x="424.32" y="221" width="3" height="7.75" fill="#f23645"/><rect x="429.71" y="218.5" width="1" height="12.5" fill="#089981"/><rect x="428.71" y="226.25" width="3" height="2.5" fill="#089981"/><rect x="434.11" y="221.5" width="1" height="16" fill="#f23645"/><rect x="433.11" y="226.25" width="3" height="11.25" fill="#f23645"/><rect x="438.51" y="233.1" width="1" height="14.4" fill="#f23645"/><rect x="437.51" y="236.9" width="3" height="6.85" fill="#f23645"/><rect x="442.9" y="225.6" width="1" height="40.2" fill="#f23645"/><rect x="441.9" y="244.2" width="3" height="3.4" fill="#f23645"/><rect x="447.3" y="232.75" width="1" height="22.55" fill="#089981"/><rect x="446.3" y="236.9" width="3" height="9.9" fill="#089981"/><rect x="451.7" y="228.5" width="1" height="9.6" fill="#089981"/><rect x="450.7" y="234.4" width="3" height="2.1" fill="#089981"/><rect x="456.09" y="231.25" width="1" height="7.5" fill="#f23645"/><rect x="455.09" y="234.4" width="3" height="2.1" fill="#f23645"/><rect x="460.49" y="222.75" width="1" height="29.65" fill="#089981"/><rect x="459.49" y="223.75" width="3" height="13.15" fill="#089981"/><rect x="464.89" y="219.4" width="1" height="5.6" fill="#089981"/><rect x="463.89" y="223.1" width="3" height="1" fill="#089981"/><rect x="469.28" y="117.25" width="1" height="106.25" fill="#089981"/><rect x="468.28" y="128" width="3" height="95.5" fill="#089981"/><rect x="473.68" y="122" width="1" height="16.5" fill="#f23645"/><rect x="472.68" y="128.25" width="3" height="3.5" fill="#f23645"/><rect x="478.08" y="129.5" width="1" height="11" fill="#f23645"/><rect x="477.08" y="129.5" width="3" height="11" fill="#f23645"/><rect x="482.47" y="133.9" width="1" height="9.35" fill="#089981"/><rect x="481.47" y="133.9" width="3" height="6.6" fill="#089981"/><rect x="486.87" y="133.5" width="1" height="12" fill="#f23645"/><rect x="485.87" y="133.5" width="3" height="11.25" fill="#f23645"/><rect x="491.26" y="139.25" width="1" height="14" fill="#f23645"/><rect x="490.26" y="144.25" width="3" height="3.35" fill="#f23645"/><rect x="495.66" y="145.4" width="1" height="24" fill="#f23645"/><rect x="494.66" y="147.9" width="3" height="18.1" fill="#f23645"/><rect x="500.06" y="165" width="1" height="14.4" fill="#f23645"/><rect x="499.06" y="165.1" width="3" height="7.8" fill="#f23645"/><rect x="504.45" y="168.1" width="1" height="23.15" fill="#f23645"/><rect x="503.45" y="172.1" width="3" height="14.8" fill="#f23645"/><rect x="508.85" y="178.7" width="1" height="8.2" fill="#089981"/><rect x="507.85" y="184" width="3" height="2.9" fill="#089981"/><rect x="513.25" y="177.5" width="1" height="21.25" fill="#f23645"/><rect x="512.25" y="184.4" width="3" height="2.85" fill="#f23645"/><rect x="517.64" y="180" width="1" height="8.1" fill="#089981"/><rect x="516.64" y="182.25" width="3" height="5.25" fill="#089981"/><rect x="522.04" y="172.3" width="1" height="13.3" fill="#089981"/><rect x="521.04" y="176.25" width="3" height="6.25" fill="#089981"/><rect x="526.44" y="155.25" width="1" height="24.65" fill="#089981"/><rect x="525.44" y="155.25" width="3" height="21.55" fill="#089981"/><rect x="530.83" y="153.6" width="1" height="5" fill="#f23645"/><rect x="529.83" y="154.5" width="3" height="4.1" fill="#f23645"/><rect x="535.23" y="153.6" width="1" height="5" fill="#089981"/><rect x="534.23" y="155.25" width="3" height="3.35" fill="#089981"/><rect x="539.63" y="153" width="1" height="9.4" fill="#f23645"/><rect x="538.63" y="155.25" width="3" height="3.75" fill="#f23645"/><rect x="544.02" y="154.25" width="1" height="7.5" fill="#f23645"/><rect x="543.02" y="158.6" width="3" height="1" fill="#f23645"/><rect x="548.42" y="141.75" width="1" height="21.85" fill="#089981"/><rect x="547.42" y="147" width="3" height="13.5" fill="#089981"/><rect x="552.82" y="134.25" width="1" height="24.35" fill="#089981"/><rect x="551.82" y="139.5" width="3" height="7.9" fill="#089981"/><rect x="557.21" y="137.4" width="1" height="10" fill="#089981"/><rect x="556.21" y="139.9" width="3" height="1" fill="#089981"/><rect x="561.61" y="128.6" width="1" height="11.9" fill="#089981"/><rect x="560.61" y="132.4" width="3" height="7.5" fill="#089981"/><rect x="566.01" y="120.75" width="1" height="13.5" fill="#089981"/><rect x="565.01" y="128.25" width="3" height="4.5" fill="#089981"/><rect x="570.4" y="126.75" width="1" height="9.35" fill="#f23645"/><rect x="569.4" y="128.25" width="3" height="6" fill="#f23645"/><rect x="574.8" y="130.25" width="1" height="27.15" fill="#f23645"/><rect x="573.8" y="134" width="3" height="6.75" fill="#f23645"/><rect x="579.19" y="127.75" width="1" height="15.85" fill="#f23645"/><rect x="578.19" y="140.5" width="3" height="1" fill="#f23645"/><rect x="583.59" y="138" width="1" height="5.6" fill="#f23645"/><rect x="582.59" y="139.25" width="3" height="2.5" fill="#f23645"/><rect x="587.99" y="139.9" width="1" height="6.6" fill="#f23645"/><rect x="586.99" y="141.1" width="3" height="5" fill="#f23645"/><rect x="592.38" y="139.25" width="1" height="13.5" fill="#f23645"/><rect x="591.38" y="145.25" width="3" height="7.5" fill="#f23645"/><rect x="596.78" y="142" width="1" height="12.9" fill="#089981"/><rect x="595.78" y="144.9" width="3" height="7.85" fill="#089981"/><rect x="601.18" y="134.9" width="1" height="30.6" fill="#f23645"/><rect x="600.18" y="144.9" width="3" height="4.1" fill="#f23645"/><rect x="605.57" y="141.1" width="1" height="13.15" fill="#089981"/><rect x="604.57" y="143" width="3" height="6" fill="#089981"/><rect x="609.97" y="128.25" width="1" height="14.15" fill="#089981"/><rect x="608.97" y="137" width="3" height="4.1" fill="#089981"/><rect x="614.37" y="137" width="1" height="13.5" fill="#f23645"/><rect x="613.37" y="137" width="3" height="11.6" fill="#f23645"/><rect x="618.76" y="135.9" width="1" height="16" fill="#089981"/><rect x="617.76" y="144" width="3" height="4.75" fill="#089981"/><rect x="623.16" y="142" width="1" height="13.75" fill="#f23645"/><rect x="622.16" y="144.25" width="3" height="2.15" fill="#f23645"/><rect x="627.56" y="139.25" width="1" height="8.35" fill="#089981"/><rect x="626.56" y="142.25" width="3" height="4.75" fill="#089981"/><rect x="631.95" y="141.1" width="1" height="1.9" fill="#089981"/><rect x="630.95" y="141.1" width="3" height="1" fill="#089981"/><rect x="636.35" y="141.4" width="1" height="11.85" fill="#f23645"/><rect x="635.35" y="143" width="3" height="4.6" fill="#f23645"/><rect x="640.75" y="143" width="1" height="10.25" fill="#089981"/><rect x="639.75" y="147" width="3" height="1" fill="#089981"/><rect x="645.14" y="145.75" width="1" height="37.75" fill="#f23645"/><rect x="644.14" y="147" width="3" height="21.5" fill="#f23645"/><rect x="649.54" y="166" width="1" height="40.9" fill="#f23645"/><rect x="648.54" y="168.1" width="3" height="32.9" fill="#f23645"/><rect x="653.94" y="178.1" width="1" height="42.5" fill="#089981"/><rect x="652.94" y="199.4" width="3" height="1.6" fill="#089981"/><rect x="658.33" y="171" width="1" height="29" fill="#089981"/><rect x="657.33" y="180.25" width="3" height="19.75" fill="#089981"/><rect x="662.73" y="177.5" width="1" height="11" fill="#f23645"/><rect x="661.73" y="179.75" width="3" height="7.15" fill="#f23645"/><rect x="667.12" y="186.9" width="1" height="8.7" fill="#f23645"/><rect x="666.12" y="186.9" width="3" height="5.85" fill="#f23645"/><rect x="671.52" y="174" width="1" height="24.75" fill="#089981"/><rect x="670.52" y="178.75" width="3" height="14" fill="#089981"/><rect x="675.92" y="172.25" width="1" height="17.15" fill="#f23645"/><rect x="674.92" y="178.1" width="3" height="11.3" fill="#f23645"/><rect x="680.31" y="174" width="1" height="31.6" fill="#f23645"/><rect x="679.31" y="189" width="3" height="14.75" fill="#f23645"/><rect x="684.71" y="180" width="1" height="34.4" fill="#089981"/><rect x="683.71" y="186.9" width="3" height="16.85" fill="#089981"/><rect x="689.11" y="181.5" width="1" height="11.25" fill="#089981"/><rect x="688.11" y="184.75" width="3" height="2.15" fill="#089981"/><rect x="693.5" y="182.5" width="1" height="6" fill="#089981"/><rect x="692.5" y="182.75" width="3" height="2" fill="#089981"/><rect x="697.9" y="179.4" width="1" height="9.1" fill="#f23645"/><rect x="696.9" y="182.25" width="3" height="3.35" fill="#f23645"/><rect x="702.3" y="176.9" width="1" height="10.6" fill="#089981"/><rect x="701.3" y="182.25" width="3" height="3.35" fill="#089981"/><rect x="706.69" y="150.1" width="1" height="40.5" fill="#089981"/><rect x="705.69" y="155.1" width="3" height="27.65" fill="#089981"/><rect x="711.09" y="132" width="1" height="23.75" fill="#089981"/><rect x="710.09" y="134.25" width="3" height="21.5" fill="#089981"/><rect x="715.49" y="129.5" width="1" height="8.5" fill="#089981"/><rect x="714.49" y="131" width="3" height="2.9" fill="#089981"/><rect x="719.88" y="129.5" width="1" height="3.75" fill="#f23645"/><rect x="718.88" y="131" width="3" height="2" fill="#f23645"/><rect x="724.28" y="124.25" width="1" height="10.5" fill="#f23645"/><rect x="723.28" y="132.25" width="3" height="2.5" fill="#f23645"/><rect x="728.68" y="132.6" width="1" height="25.9" fill="#089981"/><rect x="727.68" y="132.6" width="3" height="2.15" fill="#089981"/><rect x="733.07" y="115.5" width="1" height="70.5" fill="#f23645"/><rect x="732.07" y="133.25" width="3" height="29.35" fill="#f23645"/><rect x="737.47" y="154.5" width="1" height="24" fill="#089981"/><rect x="736.47" y="160.1" width="3" height="2.5" fill="#089981"/><rect x="741.87" y="147.6" width="1" height="18.2" fill="#089981"/><rect x="740.87" y="154.25" width="3" height="7.5" fill="#089981"/><rect x="746.26" y="152.6" width="1" height="6.9" fill="#f23645"/><rect x="745.26" y="153.25" width="3" height="6" fill="#f23645"/><rect x="750.66" y="145.1" width="1" height="14.15" fill="#089981"/><rect x="749.66" y="152" width="3" height="6.9" fill="#089981"/><rect x="755.05" y="147" width="1" height="30.5" fill="#f23645"/><rect x="754.05" y="151" width="3" height="20.6" fill="#f23645"/><rect x="759.45" y="148.25" width="1" height="26.45" fill="#089981"/><rect x="758.45" y="170" width="3" height="1.5" fill="#089981"/><rect x="763.85" y="144.75" width="1" height="26.65" fill="#089981"/><rect x="762.85" y="144.75" width="3" height="25.85" fill="#089981"/><rect x="768.24" y="137.6" width="1" height="7.9" fill="#089981"/><rect x="767.24" y="144.25" width="3" height="1.25" fill="#089981"/><rect x="772.64" y="138.25" width="1" height="9.35" fill="#089981"/><rect x="771.64" y="140.75" width="3" height="4" fill="#089981"/><rect x="777.04" y="134.25" width="1" height="11.25" fill="#f23645"/><rect x="776.04" y="141" width="3" height="4.5" fill="#f23645"/><rect x="781.43" y="137" width="1" height="11.9" fill="#089981"/><rect x="780.43" y="139.5" width="3" height="6.25" fill="#089981"/><rect x="785.83" y="125.1" width="1" height="32.7" fill="#089981"/><rect x="784.83" y="134.25" width="3" height="5.5" fill="#089981"/><rect x="790.23" y="116" width="1" height="19.75" fill="#089981"/><rect x="789.23" y="130.1" width="3" height="5" fill="#089981"/><rect x="794.62" y="126" width="1" height="9.5" fill="#f23645"/><rect x="793.62" y="128.25" width="3" height="3.75" fill="#f23645"/><rect x="799.02" y="126" width="1" height="6.6" fill="#089981"/><rect x="798.02" y="126" width="3" height="6" fill="#089981"/><rect x="803.42" y="124.25" width="1" height="10.85" fill="#f23645"/><rect x="802.42" y="126" width="3" height="8.75" fill="#f23645"/><rect x="807.81" y="111.9" width="1" height="26.6" fill="#089981"/><rect x="806.81" y="122.6" width="3" height="11.3" fill="#089981"/><rect x="812.21" y="118" width="1" height="47.1" fill="#f23645"/><rect x="811.21" y="122.6" width="3" height="28.15" fill="#f23645"/><rect x="816.61" y="144.75" width="1" height="19.75" fill="#f23645"/><rect x="815.61" y="151" width="3" height="1" fill="#f23645"/><rect x="821" y="143" width="1" height="9.6" fill="#089981"/><rect x="820" y="145.1" width="3" height="7.5" fill="#089981"/><rect x="825.4" y="142.6" width="1" height="6.9" fill="#f23645"/><rect x="824.4" y="145.1" width="3" height="4.15" fill="#f23645"/><rect x="829.8" y="142" width="1" height="9.75" fill="#089981"/><rect x="828.8" y="146" width="3" height="3.25" fill="#089981"/><rect x="834.19" y="132.25" width="1" height="17" fill="#089981"/><rect x="833.19" y="132.25" width="3" height="13.5" fill="#089981"/><rect x="838.59" y="75" width="1" height="65.75" fill="#089981"/><rect x="837.59" y="78.5" width="3" height="53.25" fill="#089981"/><rect x="842.98" y="70" width="1" height="10.6" fill="#089981"/><rect x="841.98" y="74.4" width="3" height="4.35" fill="#089981"/><rect x="847.38" y="63.75" width="1" height="11" fill="#089981"/><rect x="846.38" y="71.25" width="3" height="3.5" fill="#089981"/><rect x="851.78" y="70.6" width="1" height="5.9" fill="#f23645"/><rect x="850.78" y="71.5" width="3" height="1.25" fill="#f23645"/><rect x="856.17" y="71.25" width="1" height="16.85" fill="#f23645"/><rect x="855.17" y="73.1" width="3" height="9.65" fill="#f23645"/><rect x="860.57" y="81.5" width="1" height="6.25" fill="#f23645"/><rect x="859.57" y="82.25" width="3" height="1" fill="#f23645"/><rect x="864.97" y="78" width="1" height="22.5" fill="#f23645"/><rect x="863.97" y="83" width="3" height="15.8" fill="#f23645"/><rect x="869.36" y="91.3" width="1" height="20.3" fill="#f23645"/><rect x="868.36" y="98.2" width="3" height="12.8" fill="#f23645"/><rect x="873.76" y="105.7" width="1" height="6.7" fill="#089981"/><rect x="872.76" y="106.2" width="3" height="3.3" fill="#089981"/><rect x="878.16" y="103.3" width="1" height="3.5" fill="#089981"/><rect x="877.16" y="103.8" width="3" height="3" fill="#089981"/><rect x="882.55" y="95.6" width="1" height="16.8" fill="#089981"/><rect x="881.55" y="98" width="3" height="5.8" fill="#089981"/><rect x="886.95" y="95" width="1" height="17.4" fill="#089981"/><rect x="885.95" y="97.3" width="3" height="1" fill="#089981"/><rect x="891.35" y="89.9" width="1" height="25.85" fill="#f23645"/><rect x="890.35" y="96.1" width="3" height="7.7" fill="#f23645"/><rect x="895.74" y="99.5" width="1" height="13.4" fill="#f23645"/><rect x="894.74" y="103.3" width="3" height="2.6" fill="#f23645"/><rect x="900.14" y="101.1" width="1" height="5.55" fill="#089981"/><rect x="899.14" y="103.3" width="3" height="2.4" fill="#089981"/><rect x="904.54" y="96.1" width="1" height="7.7" fill="#089981"/><rect x="903.54" y="96.9" width="3" height="6.9" fill="#089981"/><rect x="908.93" y="94" width="1" height="7.9" fill="#f23645"/><rect x="907.93" y="97.1" width="3" height="1" fill="#f23645"/><rect x="913.33" y="95.2" width="1" height="13.4" fill="#f23645"/><rect x="912.33" y="98" width="3" height="9.8" fill="#f23645"/><rect x="917.73" y="91.1" width="1" height="37.4" fill="#f23645"/><rect x="916.73" y="107.1" width="3" height="7.7" fill="#f23645"/><rect x="922.12" y="110" width="1" height="13" fill="#089981"/><rect x="921.12" y="114.1" width="3" height="1" fill="#089981"/><rect x="926.52" y="111" width="1" height="4.3" fill="#f7a3aa"/><rect x="925.52" y="112.9" width="3" height="1.4" fill="#f7a3aa"/><rect x="930.91" y="114.1" width="1" height="7.9" fill="#f23645"/><rect x="929.91" y="114.1" width="3" height="5.5" fill="#f23645"/></g>
<!-- current price line -->
<line x1="8" y1="119.6" x2="968" y2="119.6" stroke="#f5a0a8" stroke-width="1" stroke-dasharray="1 1.2"/>
<text x="974.7" y="39.6" font-size="9.8" fill="#131722" stroke="#131722" stroke-width="0.2" textLength="34.7" lengthAdjust="spacingAndGlyphs">46,400.0</text>
<text x="974.7" y="64.6" font-size="9.8" fill="#131722" stroke="#131722" stroke-width="0.2" textLength="34.7" lengthAdjust="spacingAndGlyphs">46,200.0</text>
<text x="974.7" y="89.6" font-size="9.8" fill="#131722" stroke="#131722" stroke-width="0.2" textLength="34.7" lengthAdjust="spacingAndGlyphs">46,000.0</text>
<text x="974.7" y="114.6" font-size="9.8" fill="#131722" stroke="#131722" stroke-width="0.2" textLength="34.7" lengthAdjust="spacingAndGlyphs">45,800.0</text>
<text x="974.7" y="164.6" font-size="9.8" fill="#131722" stroke="#131722" stroke-width="0.2" textLength="34.7" lengthAdjust="spacingAndGlyphs">45,400.0</text>
<text x="974.7" y="189.6" font-size="9.8" fill="#131722" stroke="#131722" stroke-width="0.2" textLength="34.7" lengthAdjust="spacingAndGlyphs">45,200.0</text>
<text x="974.7" y="214.6" font-size="9.8" fill="#131722" stroke="#131722" stroke-width="0.2" textLength="34.7" lengthAdjust="spacingAndGlyphs">45,000.0</text>
<text x="974.7" y="239.6" font-size="9.8" fill="#131722" stroke="#131722" stroke-width="0.2" textLength="34.7" lengthAdjust="spacingAndGlyphs">44,800.0</text>
<text x="974.7" y="264.6" font-size="9.8" fill="#131722" stroke="#131722" stroke-width="0.2" textLength="34.7" lengthAdjust="spacingAndGlyphs">44,600.0</text>
<text x="974.7" y="289.6" font-size="9.8" fill="#131722" stroke="#131722" stroke-width="0.2" textLength="34.7" lengthAdjust="spacingAndGlyphs">44,400.0</text>
<text x="974.7" y="314.6" font-size="9.8" fill="#131722" stroke="#131722" stroke-width="0.2" textLength="34.7" lengthAdjust="spacingAndGlyphs">44,200.0</text>
<text x="974.7" y="339.6" font-size="9.8" fill="#131722" stroke="#131722" stroke-width="0.2" textLength="34.7" lengthAdjust="spacingAndGlyphs">44,000.0</text>
<text x="974.7" y="364.6" font-size="9.8" fill="#131722" stroke="#131722" stroke-width="0.2" textLength="34.7" lengthAdjust="spacingAndGlyphs">43,800.0</text>
<text x="974.7" y="389.6" font-size="9.8" fill="#131722" stroke="#131722" stroke-width="0.2" textLength="34.7" lengthAdjust="spacingAndGlyphs">43,600.0</text>
<text x="974.7" y="414.6" font-size="9.8" fill="#131722" stroke="#131722" stroke-width="0.2" textLength="34.7" lengthAdjust="spacingAndGlyphs">43,400.0</text>
<text x="974.7" y="439.6" font-size="9.8" fill="#131722" stroke="#131722" stroke-width="0.2" textLength="34.7" lengthAdjust="spacingAndGlyphs">43,200.0</text>
<text x="974.7" y="139.6" font-size="9.8" fill="#131722" stroke="#131722" stroke-width="0.2" textLength="34.7" lengthAdjust="spacingAndGlyphs">45,600.0</text>
<g clip-path="url(#tax)"><text x="60.5" y="470.8" font-size="9" font-weight="700" fill="#131722" stroke="#131722" stroke-width="0.15" text-anchor="middle">Aug</text><text x="113.5" y="470.8" font-size="9" font-weight="400" fill="#131722" stroke="#131722" stroke-width="0.15" text-anchor="middle">5</text><text x="166.5" y="470.8" font-size="9" font-weight="400" fill="#131722" stroke="#131722" stroke-width="0.15" text-anchor="middle">7</text><text x="214.5" y="470.8" font-size="9" font-weight="400" fill="#131722" stroke="#131722" stroke-width="0.15" text-anchor="middle">10</text><text x="271.5" y="470.8" font-size="9" font-weight="400" fill="#131722" stroke="#131722" stroke-width="0.15" text-anchor="middle">13</text><text x="324.5" y="470.8" font-size="9" font-weight="400" fill="#131722" stroke="#131722" stroke-width="0.15" text-anchor="middle">15</text><text x="377.5" y="470.8" font-size="9" font-weight="400" fill="#131722" stroke="#131722" stroke-width="0.15" text-anchor="middle">19</text><text x="429.5" y="470.8" font-size="9" font-weight="400" fill="#131722" stroke="#131722" stroke-width="0.15" text-anchor="middle">21</text><text x="478.5" y="470.8" font-size="9" font-weight="400" fill="#131722" stroke="#131722" stroke-width="0.15" text-anchor="middle">24</text><text x="535.5" y="470.8" font-size="9" font-weight="400" fill="#131722" stroke="#131722" stroke-width="0.15" text-anchor="middle">27</text><text x="614.5" y="470.8" font-size="9" font-weight="700" fill="#131722" stroke="#131722" stroke-width="0.15" text-anchor="middle">Sep</text><text x="667.5" y="470.8" font-size="9" font-weight="400" fill="#131722" stroke="#131722" stroke-width="0.15" text-anchor="middle">3</text><text x="720.5" y="470.8" font-size="9" font-weight="400" fill="#131722" stroke="#131722" stroke-width="0.15" text-anchor="middle">5</text><text x="772.5" y="470.8" font-size="9" font-weight="400" fill="#131722" stroke="#131722" stroke-width="0.15" text-anchor="middle">9</text><text x="825.5" y="470.8" font-size="9" font-weight="400" fill="#131722" stroke="#131722" stroke-width="0.15" text-anchor="middle">11</text><text x="874.5" y="470.8" font-size="9" font-weight="400" fill="#131722" stroke="#131722" stroke-width="0.15" text-anchor="middle">14</text><text x="931.5" y="470.8" font-size="9" font-weight="400" fill="#131722" stroke="#131722" stroke-width="0.15" text-anchor="middle">17</text><text x="7.6" y="470.8" font-size="9" fill="#131722" text-anchor="middle">30</text></g>
<rect x="969" y="114" width="44" height="22" rx="1" fill="#f23645"/>
<text x="975.3" y="122.6" font-size="9" fill="#fff" textLength="34" lengthAdjust="spacingAndGlyphs">45,740.4</text>
<text x="975.3" y="132.6" font-size="9" fill="#fff" textLength="21.6" lengthAdjust="spacingAndGlyphs">05:04</text>
<rect x="969" y="445.2" width="33.5" height="12.5" rx="1" fill="#ef5057"/>
<text x="975.3" y="454.7" font-size="9" fill="#fff" textLength="24.2" lengthAdjust="spacingAndGlyphs">2.83 K</text>
<text x="8" y="14.7" font-size="9.6" fill="#2a2e39" stroke="#2a2e39" stroke-width="0.25" textLength="273.8" lengthAdjust="spacingAndGlyphs">angiepanoyan created with TradingView.com, Sep 17, 2025 04:54 UTC</text>
<text x="13.7" y="34.7" font-size="8.8" fill="#131722" textLength="212.2" lengthAdjust="spacingAndGlyphs">Dow Jones Industrial Average Index · 4h · Capital.com</text>
<text x="231.8" y="34.7" font-size="8.8" fill="#131722" textLength="5.6" lengthAdjust="spacingAndGlyphs">O</text>
<text x="237.5" y="34.7" font-size="8.8" fill="#f23645" textLength="33.9" lengthAdjust="spacingAndGlyphs">45,784.9</text>
<text x="276.6" y="34.7" font-size="8.8" fill="#131722" textLength="5.6" lengthAdjust="spacingAndGlyphs">H</text>
<text x="282.9" y="34.7" font-size="8.8" fill="#f23645" textLength="33.2" lengthAdjust="spacingAndGlyphs">45,789.1</text>
<text x="322.4" y="34.7" font-size="8.8" fill="#131722" textLength="3.9" lengthAdjust="spacingAndGlyphs">L</text>
<text x="326.9" y="34.7" font-size="8.8" fill="#f23645" textLength="33.6" lengthAdjust="spacingAndGlyphs">45,718.4</text>
<text x="365.7" y="34.7" font-size="8.8" fill="#131722" textLength="4.8" lengthAdjust="spacingAndGlyphs">C</text>
<text x="370.8" y="34.7" font-size="8.8" fill="#f23645" textLength="34.2" lengthAdjust="spacingAndGlyphs">45,740.4</text>
<text x="410.5" y="34.7" font-size="8.8" fill="#f23645" textLength="58" lengthAdjust="spacingAndGlyphs">−44.0 (−0.10%)</text>
<text x="13.7" y="46.5" font-size="8.8" fill="#131722" textLength="40.2" lengthAdjust="spacingAndGlyphs">Vol · Ticks</text>
<text x="58.8" y="46.5" font-size="8.8" fill="#f23645" textLength="23.8" lengthAdjust="spacingAndGlyphs">2.83 K</text>
<circle cx="930.4" cy="447.3" r="6.4" fill="#fff" stroke="#ab47bc" stroke-width="1.2" stroke-dasharray="2.1 0.6"/>
<path d="M931.6 445.0 L928.9 447.7 L930.7 447.7 L928.6 451.4" fill="none" stroke="#ab47bc" stroke-width="1.1" stroke-linejoin="round" stroke-linecap="round"/>
<g transform="translate(949.6,447.4)"><circle r="6.75" fill="#fff" stroke="#f0505e" stroke-width="1.1"/><g clip-path="url(#f1)"><rect x="-6" y="-4.4" width="12" height="1.15" fill="#f0444f"/><rect x="-6" y="-0.5" width="12" height="1.15" fill="#f0444f"/><rect x="-6" y="3.9" width="12" height="1.15" fill="#f0444f"/><rect x="-6" y="-6" width="7.6" height="7.2" fill="#3f8fe8"/><circle cx="-3.6" cy="-3.6" r="0.35" fill="#b9d6f7"/><circle cx="-1.6" cy="-3.6" r="0.35" fill="#b9d6f7"/><circle cx="-2.6" cy="-2.2" r="0.35" fill="#b9d6f7"/><circle cx="-3.6" cy="-0.8" r="0.35" fill="#b9d6f7"/><circle cx="-1.6" cy="-0.8" r="0.35" fill="#b9d6f7"/><circle cx="-0.6" cy="-2.2" r="0.35" fill="#b9d6f7"/></g></g>
<g transform="translate(939.3,447.4)"><circle r="6.75" fill="#fff" stroke="#f0505e" stroke-width="1.1"/><g clip-path="url(#f1)"><rect x="-6" y="-4.4" width="12" height="1.15" fill="#f0444f"/><rect x="-6" y="-0.5" width="12" height="1.15" fill="#f0444f"/><rect x="-6" y="3.9" width="12" height="1.15" fill="#f0444f"/><rect x="-6" y="-6" width="7.6" height="7.2" fill="#3f8fe8"/><circle cx="-3.6" cy="-3.6" r="0.35" fill="#b9d6f7"/><circle cx="-1.6" cy="-3.6" r="0.35" fill="#b9d6f7"/><circle cx="-2.6" cy="-2.2" r="0.35" fill="#b9d6f7"/><circle cx="-3.6" cy="-0.8" r="0.35" fill="#b9d6f7"/><circle cx="-1.6" cy="-0.8" r="0.35" fill="#b9d6f7"/><circle cx="-0.6" cy="-2.2" r="0.35" fill="#b9d6f7"/></g></g>
<g transform="translate(9.03,491.55) scale(0.62)" fill="#131722"><path d="M14 22H7V11H0V4h14v18z"/><path d="M28 22h-8l7.5-18h8L28 22z"/><circle cx="20" cy="8" r="4"/></g><text x="36.5" y="504.8" font-size="15" font-weight="400" fill="#131722" stroke="#131722" stroke-width="0.75" textLength="87.6" lengthAdjust="spacingAndGlyphs">TradingView</text>
</svg>
</body></html>
